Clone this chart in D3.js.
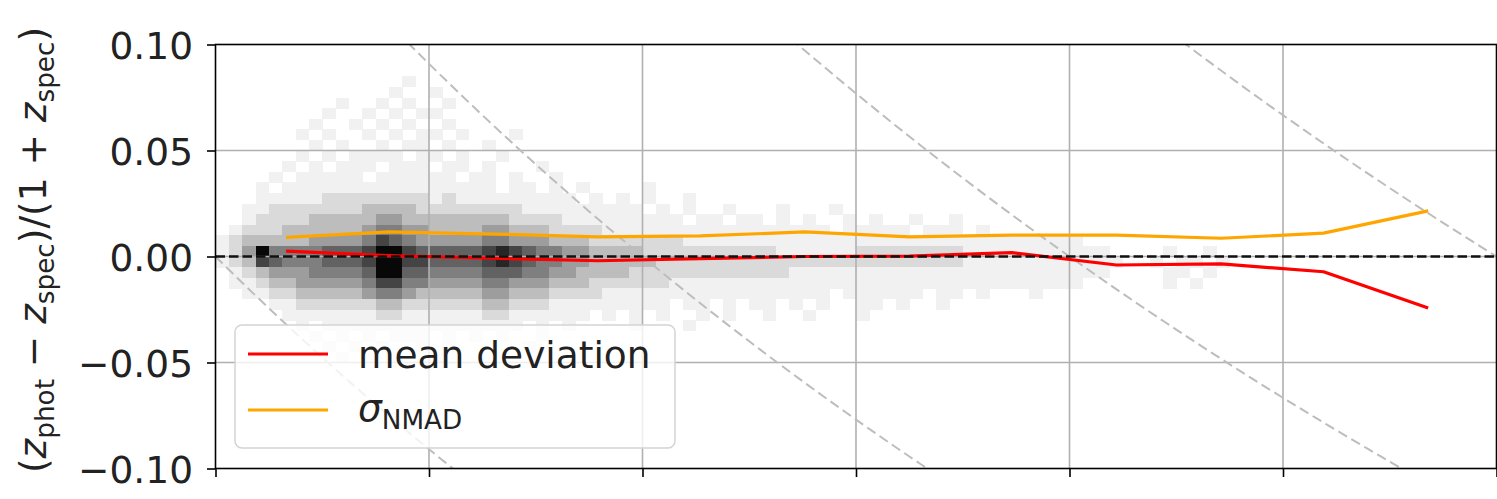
<!DOCTYPE html>
<html><head><meta charset="utf-8">
<script src="https://cdn.jsdelivr.net/npm/d3@7"></script>
<style>
body{margin:0;background:#fff}
svg{display:block;font-family:"DejaVu Sans",sans-serif}
text{white-space:pre}
</style>
</head><body><svg id="c" width="1497" height="499"></svg>
<script>
// ---------------- data ----------------
const yTicks = [-0.10, -0.05, 0.00, 0.05, 0.10];
const xTicks = [0, 0.1, 0.2, 0.3, 0.4, 0.5, 0.6];
const binCenters    = [0.033, 0.081, 0.130, 0.179, 0.227, 0.276, 0.325, 0.373, 0.422, 0.471, 0.519, 0.568];
const meanDeviation = [0.0025, 0.0004, -0.0008, -0.0020, -0.0010, 0.0000, 0.0002, 0.0018, -0.0040, -0.0035, -0.0072, -0.0243];
const sigmaNMAD     = [0.0090, 0.0116, 0.0106, 0.0093, 0.0097, 0.0116, 0.0093, 0.0101, 0.0101, 0.0086, 0.0110, 0.0215];
const zphotEdges = [0, 0.2, 0.4, 0.6];
const legendLabels = ["mean deviation", "σ"];
// 2D histogram of (z_spec, Δz/(1+z)), density levels 0..9 per cell
const histXStep = 0.00625, histYStep = 0.005, histTop = 0.085;
const histRows = [
 "0000000000 0000100000",
 "0000000000 0001001000",
 "0000000001 0010100100",
 "0000000010 0101011000",
 "0000000100 1010100100 0000000000",
 "0000001010 0101011010 0010000000",
 "0000000101 0010110100 1000000000",
 "0000001010 1111011010 0100000000",
 "0000010101 1101110110 1000100000",
 "0000101111 1011111101 1010010000",
 "0001011111 1111111111 1011010100 0010000000",
 "0001111122 2222221211 1111111010 1010010000",
 "0011222222 2333322222 2221111111 1101010010 0010001000",
 "0012222333 3344333333 3322221111 1111101101 1010100101 0010010000",
 "0122233333 3455443333 4433322221 1111111111 1111110111 1101110100 0000000000",
 "1233333444 4576544444 5544433322 2222211111 1111111111 1111111111 1111100000",
 "1249555566 6799766666 7876554433 3322222222 2211111122 2222221111 1111111000 0100100000",
 "1237655566 6799776666 7876554433 3332222222 2222222222 2222221111 1111111100 1011010000",
 "0123444555 5699665555 6665544333 3222222222 2221111111 1111111111 1111111000 0110100000",
 "0112334444 4577554444 5544433322 2222111111 1111111111 1111111111 1111100000 0101000000",
 "0011223333 3455433333 4433322221 1111111111 1111110111 1110110100 0100000000",
 "0000112222 2233222222 3322211111 1111011010 1101010011 0100100000",
 "0000011111 1122111111 2211111101 0101001010 0100100010",
 "0000001011 1111111111 1110101000 0100010000",
 "0000000101 0101110101 0100100000",
 "0000000010 1010010100 0001000000",
 "0000000001 0001001000"
];
const levelColors = ["#ffffff","#f1f1f1","#dadada","#bdbdbd","#9d9d9d","#7f7f7f","#626262","#444444","#262626","#080808"];

// ---------------- layout ----------------
const svg = d3.select("#c");
const L = 215.5, R = 1496.5, T = 44.5, B = 468.5;
const x = d3.scaleLinear().domain([0, 0.6]).range([L, R]);
const y = d3.scaleLinear().domain([-0.1, 0.1]).range([B, T]);
const FS = 37.5;
const SUB = 7.5;

svg.append("rect").attr("width",1497).attr("height",499).attr("fill","#fff");
svg.append("defs").append("clipPath").attr("id","clip")
  .append("rect").attr("x",L).attr("y",T).attr("width",R-L).attr("height",B-T);
const plot = svg.append("g").attr("clip-path","url(#clip)");

// histogram
const cells = [];
histRows.forEach((row, i) => {
  const s = row.replace(/ /g, "");
  for (let c = 0; c < s.length; c++) {
    const v = +s[c];
    if (v > 0) cells.push({x0: c*histXStep, y1: histTop - i*histYStep, v});
  }
});
plot.append("g").selectAll("rect").data(cells).join("rect")
  .attr("x", d => x(d.x0))
  .attr("y", d => y(d.y1))
  .attr("width", d => x(d.x0 + histXStep) - x(d.x0) + 0.4)
  .attr("height", d => y(d.y1 - histYStep) - y(d.y1) + 0.4)
  .attr("fill", d => levelColors[d.v])
  .attr("shape-rendering","crispEdges");

// grid
const grid = plot.append("g").attr("stroke","#b0b0b0").attr("stroke-width",1.6);
grid.selectAll("line.v").data(xTicks.slice(1,-1)).join("line")
  .attr("x1", d => x(d)).attr("x2", d => x(d)).attr("y1", T).attr("y2", B);
grid.selectAll("line.h").data(yTicks.slice(1,-1)).join("line")
  .attr("x1", L).attr("x2", R).attr("y1", d => y(d)).attr("y2", d => y(d));

// reference curves: constant z_phot edges
const zs = d3.range(0, 0.6001, 0.005);
const curve = d3.line().x(d => x(d[0])).y(d => y(d[1]));
plot.append("g").selectAll("path").data(zphotEdges).join("path")
  .attr("d", c => curve(zs.map(z => [z, (c - z)/(1 + z)])))
  .attr("fill","none").attr("stroke","#bdbdbd").attr("stroke-width",2)
  .attr("stroke-dasharray","10,5");

// series
const line = d3.line().x((d,i) => x(binCenters[i])).y(d => y(d));
plot.append("path").datum(meanDeviation).attr("d", line)
  .attr("fill","none").attr("stroke","#ff0000").attr("stroke-width",3.2).attr("stroke-linejoin","round");
plot.append("path").datum(sigmaNMAD).attr("d", line)
  .attr("fill","none").attr("stroke","#ffa500").attr("stroke-width",3.2).attr("stroke-linejoin","round");

// zero line
plot.append("line").attr("x1",L).attr("x2",R).attr("y1",y(0)).attr("y2",y(0))
  .attr("stroke","#111").attr("stroke-width",2.6).attr("stroke-dasharray","9.5,4");

// spines
svg.append("rect").attr("x",L).attr("y",T).attr("width",R-L).attr("height",B-T)
  .attr("fill","none").attr("stroke","#000").attr("stroke-width",1.6);

// axes ticks
const yAxis = d3.axisLeft(y).tickValues(yTicks).tickSize(8.5).tickPadding(14)
  .tickFormat(d => d3.format(".2f")(d).replace("-", "\u2212"));
const gy = svg.append("g").attr("transform",`translate(${L},0)`).call(yAxis);
gy.select(".domain").remove();
gy.selectAll(".tick line").attr("stroke","#000").attr("stroke-width",1.6);
gy.selectAll(".tick text").attr("font-size",FS).attr("font-family","DejaVu Sans")
  .attr("fill","#222").attr("dy","0.36em");

const xAxis = d3.axisBottom(x).tickValues(xTicks).tickSize(8.5).tickFormat("");
const gx = svg.append("g").attr("transform",`translate(0,${B})`).call(xAxis);
gx.select(".domain").remove();
gx.selectAll(".tick line").attr("stroke","#000").attr("stroke-width",1.6);

// y label
const parts = [
  {t:"("}, {t:"z", it:1}, {t:"phot", sub:1}, {t:" \u2212 "}, {t:"z", it:1}, {t:"spec", sub:1},
  {t:")/(1 + "}, {t:"z", it:1}, {t:"spec", sub:1}, {t:")"}
];
const yl = svg.append("text").attr("transform","translate(46,250) rotate(-90)")
  .attr("text-anchor","middle").attr("font-size",FS).attr("fill","#222");
let shifted = false;
parts.forEach(p => {
  const ts = yl.append("tspan").text(p.t);
  if (p.it) ts.attr("font-style","italic");
  if (p.sub) { ts.attr("font-size", FS*0.7).attr("dy", shifted ? 0 : SUB); shifted = true; }
  else if (shifted) { ts.attr("dy", -SUB); shifted = false; }
});

// legend
const lg = svg.append("g");
lg.append("rect").attr("x",235).attr("y",325).attr("width",440).attr("height",123).attr("rx",7)
  .attr("fill","#fff").attr("fill-opacity",0.8).attr("stroke","#d4d4d4").attr("stroke-width",1.5);
lg.append("line").attr("x1",248).attr("x2",328).attr("y1",354).attr("y2",354)
  .attr("stroke","#ff0000").attr("stroke-width",3.2);
lg.append("line").attr("x1",248).attr("x2",328).attr("y1",410).attr("y2",410)
  .attr("stroke","#ffa500").attr("stroke-width",3.2);
lg.append("text").attr("x",358).attr("y",368).attr("font-size",FS).attr("fill","#222").text(legendLabels[0]);
const t2 = lg.append("text").attr("x",358).attr("y",421).attr("font-size",FS).attr("fill","#222");
t2.append("tspan").attr("font-style","italic").text(legendLabels[1]);
t2.append("tspan").attr("font-size",FS*0.7).attr("dy",SUB).text("NMAD");
</script>
</body></html>
